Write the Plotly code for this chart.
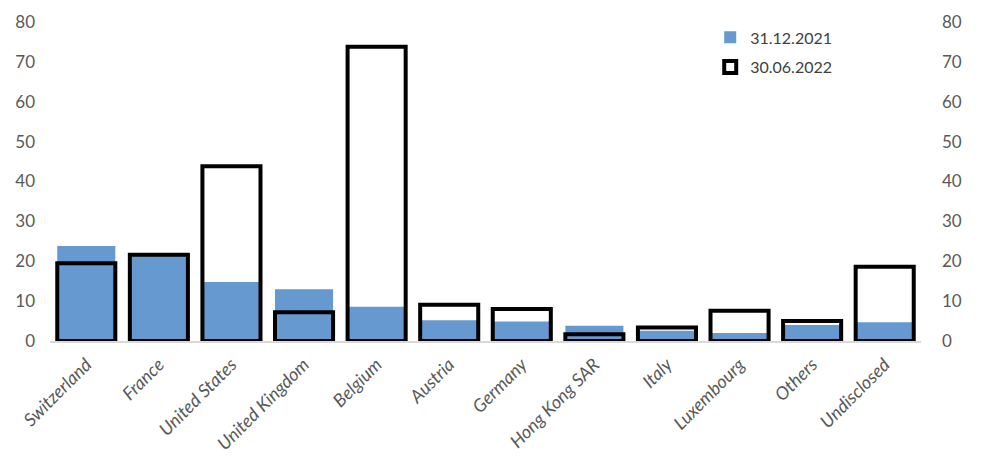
import plotly.graph_objects as go

countries = ["Switzerland", "France", "United States", "United Kingdom", "Belgium",
             "Austria", "Germany", "Hong Kong SAR", "Italy", "Luxembourg",
             "Others", "Undisclosed"]
dec_2021 = [23.8, 21.7, 14.8, 13.0, 8.6, 5.2, 4.9, 3.8, 2.6, 2.0, 4.0, 4.7]
jun_2022 = [19.5, 21.6, 43.8, 7.2, 73.8, 9.1, 8.0, 1.7, 3.4, 7.6, 5.0, 18.6]

font = "Lato"
grey = "#595959"

fig = go.Figure()
fig.add_trace(go.Bar(x=countries, y=dec_2021, name="31.12.2021",
                     marker=dict(color="#6699d0", line=dict(width=0)),
                     legendgroup="a"))
fig.add_trace(go.Bar(x=countries, y=jun_2022, name="30.06.2022", yaxis="y2",
                     marker=dict(color="rgba(0,0,0,0)",
                                 line=dict(color="black", width=4)),
                     legendgroup="b"))

fig.update_layout(
    width=983, height=475,
    margin=dict(l=50, r=62, t=22, b=134),
    plot_bgcolor="white", paper_bgcolor="white",
    barmode="overlay", bargap=0.2,
    font=dict(family=font, size=17, color=grey),
    xaxis=dict(showline=True, linecolor="#d9d9d9", linewidth=2, ticks="",
               tickangle=-45, ticklabelstandoff=4,
               tickfont=dict(family=font, size=18, color=grey, style="italic")),
    yaxis=dict(range=[0, 80], dtick=10, showgrid=False, zeroline=False,
               ticks="", ticklabelstandoff=14,
               tickfont=dict(family=font, size=17, color=grey)),
    yaxis2=dict(range=[0, 80], dtick=10, showgrid=False, zeroline=False,
                overlaying="y", side="right", ticks="", ticklabelstandoff=20,
                tickfont=dict(family=font, size=17, color=grey)),
    legend=dict(x=0.758, y=1.005, xanchor="left", yanchor="top",
                font=dict(family=font, size=16, color="#404040"),
                tracegroupgap=6, bgcolor="rgba(0,0,0,0)"),
)

fig.write_html("out.html", config={"displayModeBar": False},
               post_script="document.body.style.margin='0';")
